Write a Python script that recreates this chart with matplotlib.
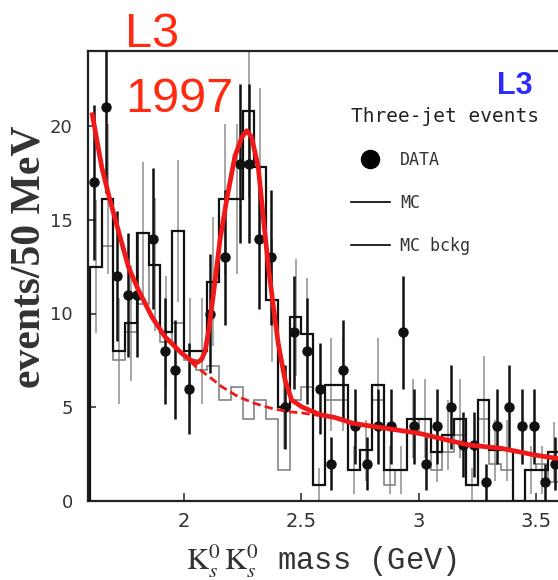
import numpy as np
import matplotlib
matplotlib.use("Agg")
import matplotlib.pyplot as plt
from matplotlib.lines import Line2D

plt.rcParams['mathtext.fontset'] = 'stix'

#====================== binning (50 MeV bins)
bin_lo = 1.60
bin_w = 0.05

#====================== MC histograms (events / bin)
mc = [12.5, 16.1, 8.0, 9.5, 14.3, 12.6, 9.0, 14.4, 8.0, 8.0,
      11.7, 16.1, 16.1, 20.8, 17.8, 10.7, 5.0, 9.8, 8.9, 0.85,
      6.2, 6.2, 1.65, 2.7, 6.2, 1.65, 1.65, 4.4, 4.4, 2.6,
      3.5, 4.4, 0.85, 5.4, 2.7, 2.7, 0.0, 1.65, 1.65, 2.6, 2.6]
mc_bckg = [12.5, 13.6, 7.5, 9.0, 10.5, 12.6, 8.5, 9.5, 7.5, 7.0,
           7.2, 5.4, 6.1, 4.4, 5.4, 4.4, 1.65, 5.4, 6.1, 0.85,
           5.4, 5.4, 1.65, 2.7, 5.4, 0.85, 1.65, 4.4, 3.5, 1.65,
           2.6, 3.5, 0.85, 4.4, 2.0, 1.65, 0.0, 1.65, 2.0, 1.0, 2.6]

#====================== data points
data_x = [1.617, 1.667, 1.714, 1.763, 1.799, 1.869, 1.919, 1.962, 2.02, 2.111,
          2.174, 2.238, 2.278, 2.32, 2.37, 2.43, 2.47, 2.525, 2.58, 2.626,
          2.675, 2.728, 2.78, 2.827, 2.88, 2.93, 2.98, 3.03, 3.075, 3.135,
          3.186, 3.234, 3.285, 3.333, 3.383, 3.437, 3.489, 3.536, 3.579]
data_y = [17, 21, 12, 11, 11, 14, 8, 7, 6, 10,
          13, 18, 18, 14, 13, 5, 9, 8, 6, 2,
          7, 4, 2, 4, 4, 9, 4, 2, 4, 5,
          3, 3, 1, 4, 5, 4, 4, 1, 2]

#====================== fit curves
fit_x = [1.61, 1.65, 1.685, 1.72, 1.763, 1.806, 1.863, 1.919, 1.99, 2.03,
         2.055, 2.075, 2.09, 2.105, 2.125, 2.153, 2.182, 2.217, 2.246, 2.267,
         2.288, 2.316, 2.337, 2.359, 2.38, 2.401, 2.43, 2.458, 2.50, 2.58,
         2.643, 2.72, 2.863, 3.004, 3.09, 3.21, 3.35, 3.494, 3.60]
fit_y = [20.6, 17.8, 16.05, 14.45, 12.5, 11.25, 9.83, 8.76, 7.88, 7.5,
         7.38, 7.55, 8.0, 9.1, 11.0, 13.9, 16.1, 18.4, 19.4, 19.75,
         19.4, 17.8, 15.2, 12.5, 10.4, 8.4, 6.45, 5.39, 5.03, 4.6,
         4.45, 4.14, 3.87, 3.6, 3.34, 2.99, 2.81, 2.45, 2.25]
bkg_x = [1.99, 2.047, 2.089, 2.125, 2.16, 2.231, 2.302, 2.373, 2.444, 2.50, 2.58]
bkg_y = [7.9, 7.2, 6.8, 6.45, 6.1, 5.56, 5.2, 4.94, 4.76, 4.7, 4.55]

mc = np.array(mc)
mc_bckg = np.array(mc_bckg)
edges = bin_lo + bin_w*np.arange(len(mc)+1)
centers = edges[:-1] + bin_w/2
data_y = np.array(data_y)

fig = plt.figure(figsize=(5.58, 5.8), dpi=100)
ax = fig.add_axes([88/558., 79/580., 482/558., 450/580.])

ax.stairs(mc_bckg, edges, color='#7a7a7a', lw=1.1, zorder=2)
ax.errorbar(centers, mc, yerr=np.sqrt(mc), fmt='none', ecolor='#a0a0a0', elinewidth=1.3, zorder=1)
ax.stairs(mc, edges, color='#111111', lw=1.6, zorder=3)
ax.errorbar(data_x, data_y, yerr=np.sqrt(data_y), fmt='o', color='#111111', ms=6.5,
            elinewidth=1.8, capsize=0, zorder=5)
ax.plot(fit_x, fit_y, color='#f01818', lw=3.4, zorder=6, solid_joinstyle='round')
ax.plot(bkg_x, bkg_y, color='#f01818', lw=2.0, ls=(0, (3, 1.5)), zorder=6)

ax.set_xlim(1.5915, 3.6426)
ax.set_ylim(0, 24.0)
ax.set_xticks([2, 2.5, 3, 3.5])
ax.set_xticklabels(['2', '2.5', '3', '3.5'])
ax.set_yticks([0, 5, 10, 15, 20])
ax.tick_params(direction='in', length=6, width=1.2, colors='#333333')
ax.tick_params(axis='x', labelsize=14, pad=8)
ax.tick_params(axis='y', labelsize=13, pad=11)
for s in ['left', 'bottom', 'top']:
    ax.spines[s].set_linewidth(1.6)
    ax.spines[s].set_color('#222222')
ax.spines['right'].set_visible(False)

handles = [Line2D([], [], ls='none', marker='o', color='k', ms=13),
           Line2D([], [], color='k', lw=1.2),
           Line2D([], [], color='k', lw=1.2)]
leg = ax.legend(handles, ['DATA', 'MC', 'MC bckg'], loc='upper left',
                bbox_to_anchor=(0.545, 0.875), frameon=False,
                title='Three-jet events',
                prop={'family': 'DejaVu Sans Mono', 'size': 12},
                title_fontproperties={'family': 'DejaVu Sans Mono', 'size': 14},
                alignment='left', borderpad=0, borderaxespad=0,
                handlelength=2.35, handletextpad=0.6, labelspacing=1.5)
for t in leg.get_texts():
    t.set_color('#333333')
leg.get_title().set_color('#222222')

ax.text(0.848, 0.905, 'L3', transform=ax.transAxes, color='#2b2bff',
        fontsize=22, fontweight='bold', family='Liberation Sans')

fig.text(0.052, 0.557, 'events/50 MeV', rotation=90, ha='center', va='center',
         family='Liberation Serif', fontweight='bold', fontsize=30, color='#333333')
fig.text(0.577, 0.0172, r'$\mathrm{K}^0_s\,\mathrm{K}^0_s$ mass (GeV)', ha='center',
         va='baseline', family='Liberation Mono', fontsize=22, color='#333333')

fig.text(125/558., 1-47/580., 'L3', color='#ff2a10', fontsize=35, family='Liberation Sans',
         va='baseline', zorder=10)
fig.text(125/558., 1-112/580., '1997', color='#ff2a10', fontsize=35, family='Liberation Sans',
         va='baseline', zorder=10)

fig.savefig('out.png', dpi=100)
